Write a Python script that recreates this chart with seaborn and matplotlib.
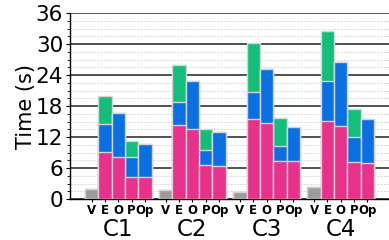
import numpy as np
import pandas as pd
import matplotlib
matplotlib.use("Agg")
import matplotlib.pyplot as plt
import seaborn as sns
from matplotlib.ticker import MultipleLocator, FixedLocator

groups = ["C1", "C2", "C3", "C4"]
variants = ["V", "E", "O", "P", "Op"]

# stacked segment values (s): base (pink / gray for V), middle (blue), top (green)
base = {
    "C1": [2.0, 9.1, 8.1, 4.25, 4.3],
    "C2": [1.7, 14.4, 13.6, 6.6, 6.5],
    "C3": [1.3, 15.6, 14.7, 7.35, 7.35],
    "C4": [2.45, 15.2, 14.25, 7.2, 7.1],
}
middle = {
    "C1": [0.0, 5.4, 8.5, 3.85, 6.4],
    "C2": [0.0, 4.5, 9.2, 2.9, 6.5],
    "C3": [0.0, 5.1, 10.5, 2.9, 6.65],
    "C4": [0.0, 7.6, 12.35, 4.9, 8.4],
}
top = {
    "C1": [0.0, 5.4, 0.0, 3.2, 0.0],
    "C2": [0.0, 7.0, 0.0, 4.0, 0.0],
    "C3": [0.0, 9.5, 0.0, 5.45, 0.0],
    "C4": [0.0, 9.7, 0.0, 5.4, 0.0],
}

PINK = "#e7318b"
BLUE = "#0a70e2"
GREEN = "#12bf7a"
GRAY = "#9c9c9c"
EDGE = "#d4d4d4"

rows = []
for g in groups:
    for i, v in enumerate(variants):
        b = base[g][i]
        m = middle[g][i]
        t = top[g][i]
        rows.append({"group": g, "variant": v, "l1": b, "l2": b + m, "l3": b + m + t})
df = pd.DataFrame(rows)

fig = plt.figure(figsize=(3.89, 2.40), dpi=100)
ax = fig.add_axes([0.18, 0.17, 0.82, 0.775])

layers = [("l3", GREEN), ("l2", BLUE), ("l1", PINK)]
for col, color in layers:
    pal = {v: (GRAY if v == "V" else color) for v in variants}
    sns.barplot(data=df, x="group", y=col, hue="variant", order=groups,
                hue_order=variants, palette=pal, dodge=True, width=0.9,
                edgecolor=EDGE, linewidth=1.0, saturation=1, legend=False,
                errorbar=None, ax=ax, zorder=3)

ax.set_xlim(-0.65, 3.65)
ax.set_ylim(0, 36)
ax.yaxis.set_major_locator(MultipleLocator(6))
ax.yaxis.set_minor_locator(MultipleLocator(1.5))
ax.grid(which="major", axis="y", color="#222222", linewidth=1.1, zorder=0)
ax.grid(which="minor", axis="y", color="#dddddd", linewidth=0.8,
        linestyle=(0, (2, 1)), zorder=0)
ax.set_axisbelow(True)

offsets = np.array([-0.36, -0.18, 0.0, 0.18, 0.36])
bar_pos = [gi + o for gi in range(len(groups)) for o in offsets]
ax.xaxis.set_major_locator(FixedLocator(bar_pos))
ax.xaxis.set_minor_locator(FixedLocator([]))
ax.set_xticklabels(variants * len(groups), fontsize=8.5, fontweight="bold")
ax.tick_params(axis="x", which="major", length=2.5, width=0.8, pad=1.2)
ax.tick_params(axis="y", which="major", labelsize=15.5, length=3, pad=2)
ax.tick_params(axis="y", which="minor", length=2)
ax.set_xlabel("")
ax.set_ylabel("Time (s)", fontsize=15, labelpad=0)

for gi, g in enumerate(groups):
    ax.annotate(g, xy=(gi, 0), xycoords=("data", "axes fraction"),
                xytext=(0, -21.5), textcoords="offset points",
                ha="center", va="center", fontsize=16.5)

for s in ["top", "right"]:
    ax.spines[s].set_visible(False)
for s in ["left", "bottom"]:
    ax.spines[s].set_color("black")
    ax.spines[s].set_linewidth(1.0)

fig.savefig("out.png", dpi=100)
